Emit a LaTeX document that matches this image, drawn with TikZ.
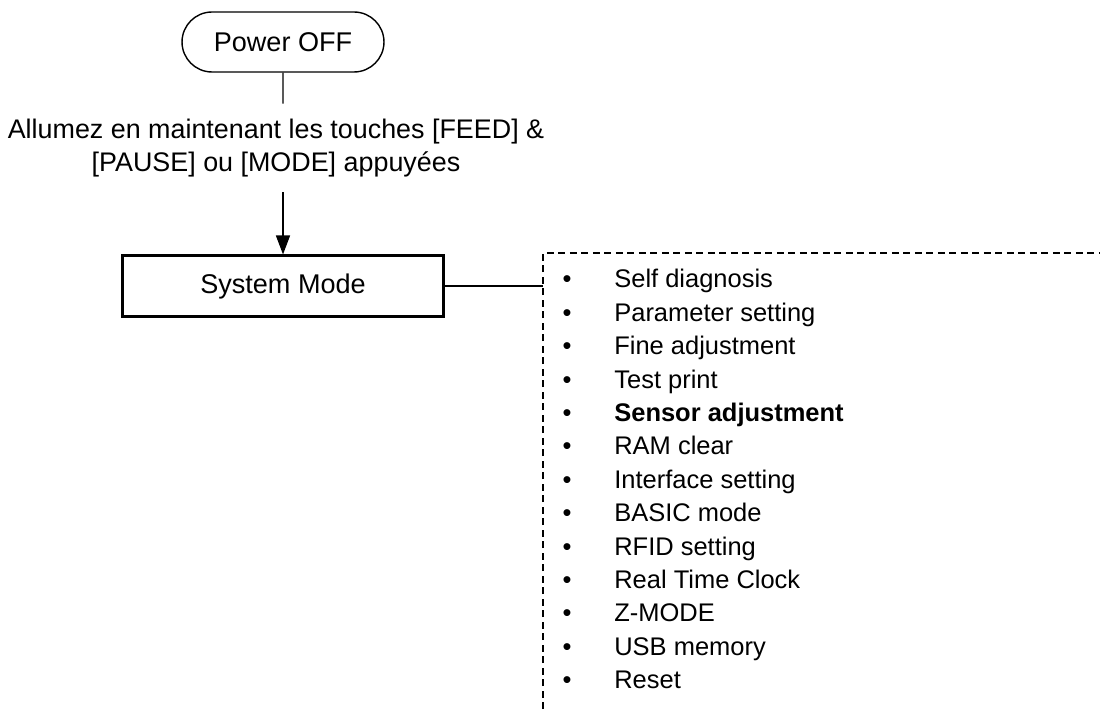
\documentclass[tikz,border=0pt]{standalone}
\usepackage{fontspec}
\setmainfont{Liberation Sans}
\usetikzlibrary{arrows.meta,positioning,shapes.misc}

\begin{document}
\begin{tikzpicture}[
  x=0.02cm,y=-0.02cm,
  node distance=6mm,
  terminal/.style={draw,rounded rectangle,line width=0.8pt,minimum width=4.04cm,minimum height=1.2cm,inner sep=0pt,font=\fontsize{15.4}{18.8}\selectfont},
  modebox/.style={draw,line width=1.2pt,minimum width=6.42cm,minimum height=1.22cm,inner sep=0pt,font=\fontsize{15.4}{18.8}\selectfont},
  note/.style={align=center,inner xsep=0pt,inner ysep=3mm,font=\fontsize{15.3}{18.8}\selectfont},
  flow/.style={-{Triangle[length=3.8mm,width=2.8mm]},line width=0.8pt},
  link/.style={line width=0.8pt},
  frame/.style={line width=0.8pt,dash pattern=on 1.4mm off 0.9mm},
  entry/.style={anchor=base west,inner sep=0pt,font=\fontsize{14.5}{17}\selectfont},
  dot/.style={anchor=base,inner sep=0pt,font=\fontsize{14.5}{17}\selectfont}
]
\useasboundingbox (0,0) rectangle (1100,709);
\node[terminal] (power) at (283,42) {Power OFF};
\node[note,below=6.2mm of power,xshift=-1.4mm] (keys) {Allumez en maintenant les touches [FEED] \&\\{}[PAUSE] ou [MODE] appuyées};
\node[modebox,below=12.4mm of keys,xshift=1.4mm] (sysmode) {System Mode};
\draw[link] (power) -- (power |- keys.north);
\draw[flow] (keys.south -| sysmode) -- (sysmode);
% list of the system mode menus
\coordinate (frtop) at (543,253);
\coordinate (frend) at (1100,253);
\coordinate (frbot) at (543,709);
\draw[frame] (frbot) -- (frtop) -- (frend);
\draw[link] (sysmode.east) -- (sysmode.east -| frtop);
\foreach \txt [count=\i] in {Self diagnosis,Parameter setting,Fine adjustment,Test print,{\textbf{Sensor adjustment}},RAM clear,Interface setting,BASIC mode,RFID setting,Real Time Clock,Z-MODE,USB memory,Reset}{
  \node[dot] (dot\i) at (567,{288+33.4*(\i-1)}) {•};
  \node[entry] (item\i) at (614,{288+33.4*(\i-1)}) {\txt};
}
\end{tikzpicture}
\end{document}
